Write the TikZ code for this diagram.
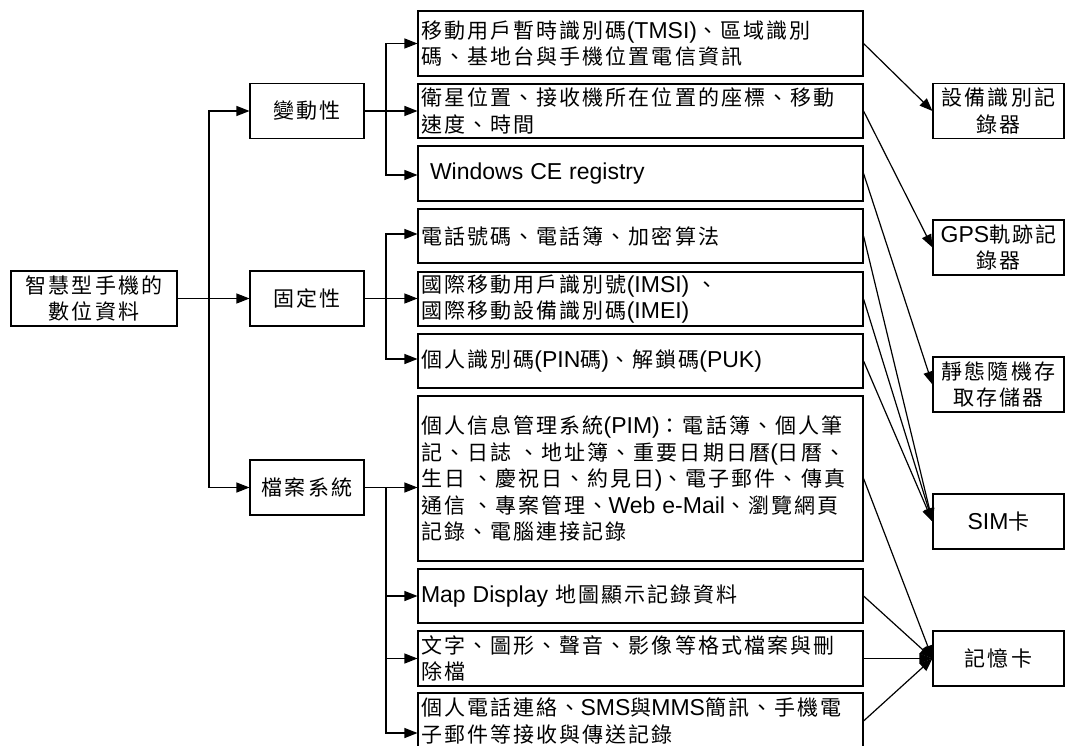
\documentclass[tikz,border=0pt]{standalone}
\usepackage{fontspec}
\setmainfont{Noto Sans CJK TC}[LetterSpace=10]
\newfontfamily\lat{Liberation Sans}[Scale=1.095]
\newcommand\la[1]{\mbox{\lat #1}}
\usetikzlibrary{arrows.meta}
\begin{document}
\begin{tikzpicture}[x=1pt,y=-1pt,
  every node/.style={font=\fontsize{21}{26.5}\selectfont},
  box/.style={draw, line width=1.1pt, inner ysep=0pt},
  midbox/.style={box, minimum width=114pt, minimum height=55pt, align=center, inner xsep=0pt},
  leafbox/.style={box, text width=439pt, inner xsep=3pt, align=left},
  rbox/.style={box, minimum width=131pt, minimum height=55pt, align=center, inner xsep=0pt},
  ln/.style={line width=1.2pt},
  arr/.style={ln, -{Triangle[length=13pt,width=10pt]}}]
\useasboundingbox (0,0) rectangle (1065,746);
% root and level 2
\node[box, minimum width=166pt, minimum height=55pt, align=center, inner xsep=0pt] (root) at (94,298.5) {智慧型手機的\\數位資料};
\node[midbox] (v) at (307,111) {變動性};
\node[midbox] (g) at (307,298.5) {固定性};
\node[midbox] (f) at (307,487.5) {檔案系統};
% level 3
\node[leafbox, minimum height=65pt] (b1) at (640.5,43.5) {移動用戶暫時識別碼\la{(TMSI)}、區域識別\\碼、基地台與手機位置電信資訊};
\node[leafbox, minimum height=54pt] (b2) at (640.5,111) {衛星位置、接收機所在位置的座標、移動\\速度、時間};
\node[leafbox, minimum height=55pt] (b3) at (640.5,173.5) {\raisebox{-3pt}{\hspace*{9pt}\la{Windows CE registry}}};
\node[leafbox, minimum height=54pt] (b4) at (640.5,236) {電話號碼、電話簿、加密算法};
\node[leafbox, minimum height=54pt] (b5) at (640.5,299) {國際移動用戶識別號\la{(IMSI) }、\\國際移動設備識別碼\la{(IMEI)}};
\node[leafbox, minimum height=54pt] (b6) at (640.5,361) {個人識別碼\la{(PIN}碼\la{)}、解鎖碼\la{(PUK)}};
\node[leafbox, minimum height=165pt] (b7) at (640.5,478.5) {個人信息管理系統\la{(PIM)}：電話簿、個人筆\\記、日誌~、地址簿、重要日期日曆\la{(}日曆、\\生日~、慶祝日、約見日\la{)}、電子郵件、傳真\\通信~、專案管理、\la{Web e-Mail}、瀏覽網頁\\記錄、電腦連接記錄};
\node[leafbox, minimum height=54pt] (b8) at (640.5,596) {\la{Map Display }地圖顯示記錄資料};
\node[leafbox, minimum height=55pt] (b9) at (640.5,658.5) {文字、圖形、聲音、影像等格式檔案與刪\\除檔};
\node[leafbox, minimum height=56pt] (b10) at (640.5,721) {個人電話連絡、\la{SMS}與\la{MMS}簡訊、手機電\\子郵件等接收與傳送記錄};
% right column
\node[rbox] (r1) at (998.5,111) {設備識別記\\錄器};
\node[rbox] (r2) at (998.5,247.5) {\la{GPS}軌跡記\\錄器};
\node[rbox] (r3) at (998.5,384.5) {靜態隨機存\\取存儲器};
\node[rbox] (r4) at (998.5,521.5) {\la{SIM}卡};
\node[rbox] (r5) at (998.5,658.5) {記憶卡};
% trunk from root
\coordinate (rt) at (209,298.5);
\draw[arr] (root.east) -- (g.west);
\draw[arr] (rt) |- (v.west);
\draw[arr] (rt) |- (f.west);
% branches
\coordinate (vb) at (386,111);
\coordinate (gb) at (386,298.5);
\coordinate (fb) at (386,487.5);
\draw[ln] (v.east) -- (vb);
\draw[arr] (vb) |- (b1.west);
\draw[arr] (vb) -- (b2.west);
\draw[arr] (vb) |- ([yshift=-1.5pt]b3.west);
\draw[ln] (g.east) -- (gb);
\draw[arr] (gb) |- ([yshift=2pt]b4.west);
\draw[arr] (gb) -- (gb -| b5.west);
\draw[arr] (gb) |- ([yshift=2pt]b6.west);
\draw[arr] (f.east) -- (f.east -| b7.west);
\draw[arr] (fb) |- (b8.west);
\draw[arr] (fb) |- (b9.west);
\draw[arr] (fb) |- ([yshift=-12pt]b10.west);
% diagonals
\draw[arr] (b1.east) -- (r1.west);
\draw[arr] (b2.east) -- (r2.west);
\draw[arr] (b3.east) -- (r3.west);
\draw[arr] (b4.east) -- (r4.west);
\draw[arr] (b5.east) -- (r4.west);
\draw[arr] (b6.east) -- (r4.west);
\draw[arr] (b7.east) -- (r5.west);
\draw[arr] (b8.east) -- (r5.west);
\draw[arr] (b9.east) -- (r5.west);
\draw[arr] (b10.east) -- (r5.west);
\end{tikzpicture}
\end{document}
